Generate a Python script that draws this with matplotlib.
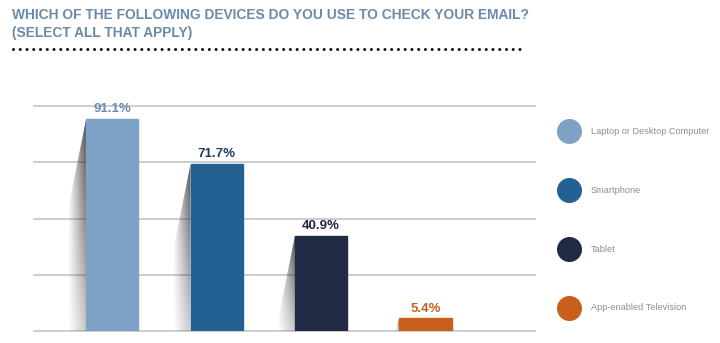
import numpy as np
import matplotlib.pyplot as plt
from matplotlib.patches import Polygon
from matplotlib.lines import Line2D

categories = ["Laptop or Desktop Computer", "Smartphone", "Tablet", "App-enabled Television"]
values = [91.1, 71.7, 40.9, 5.4]
labels = ["91.1%", "71.7%", "40.9%", "5.4%"]
barColors = ["#7ea1c6", "#236193", "#212b46", "#c95f1c"]
labelColors = ["#6a8bb0", "#1f3d63", "#1f2640", "#c95f1c"]

plt.rcParams['font.family'] = ['Liberation Sans', 'DejaVu Sans']

fig = plt.figure(figsize=(7.2, 3.43), dpi=100)
ax = fig.add_axes([34 / 720, 12 / 343, 501 / 720, 225 / 343])
yMax = 96.5
ax.set_xlim(-0.75, 4.05)
ax.set_ylim(0, yMax)
ax.axis("off")

for f in [0, 0.25, 0.5, 0.75, 1.0]:
    ax.axhline(f * yMax, color="#c9c9c9", lw=1.3, zorder=0, clip_on=False)

barWidth = 0.5
x = np.arange(len(values))
ax.bar(x, values, width=barWidth, color=barColors, edgecolor=barColors, zorder=3)

# shadows to the left of each bar
for i, v in enumerate(values):
    left = x[i] - barWidth / 2
    dx = 0.17 if v > 10 else 0.04
    slant = min(38, v)
    poly = Polygon([(left, v), (left - dx, v - slant), (left - dx, 0), (left, 0)],
                   closed=True, facecolor="none", edgecolor="none")
    ax.add_patch(poly)
    h = np.linspace(0, 1, 60)[None, :]
    vert = np.linspace(0.3, 1, 80)[:, None]
    grad = np.zeros((80, 60, 4))
    grad[..., :3] = 0.2
    grad[..., 3] = 0.85 * h * vert
    im = ax.imshow(grad, extent=[left - dx, left, 0, v], origin="lower",
                   aspect="auto", zorder=2, interpolation="bilinear")
    im.set_clip_path(poly)
    ax.text(x[i], v + 1.6, labels[i], ha="center", va="bottom", fontsize=9.5,
            fontweight="bold", color=labelColors[i], zorder=4)

ax.set_xlim(-0.75, 4.05)
ax.set_ylim(0, yMax)

# title
titleColor = "#6b8aab"
fig.text(12 / 720, 1 - 15 / 343, "WHICH OF THE FOLLOWING DEVICES DO YOU USE TO CHECK YOUR EMAIL?",
         fontsize=9.9, fontweight="bold", color=titleColor, va="center", ha="left")
fig.text(12 / 720, 1 - 33 / 343, "(SELECT ALL THAT APPLY)",
         fontsize=9.9, fontweight="bold", color=titleColor, va="center", ha="left")
fig.add_artist(Line2D([13 / 720, 525 / 720], [1 - 49 / 343, 1 - 49 / 343],
                      transform=fig.transFigure, color="#111111", lw=2.2,
                      linestyle=(0, (0.01, 2.2)), dash_capstyle="round"))

# legend
legendY = [131, 190, 249, 308]
for i, cat in enumerate(categories):
    yf = 1 - legendY[i] / 343
    fig.add_artist(Line2D([569 / 720], [yf], transform=fig.transFigure, marker="o",
                          markersize=17, color=barColors[i], linestyle="none"))
    fig.text(591 / 720, yf, cat, fontsize=6.6, color="#8f8f8f", va="center", ha="left")

fig.savefig("out.png", dpi=100)
